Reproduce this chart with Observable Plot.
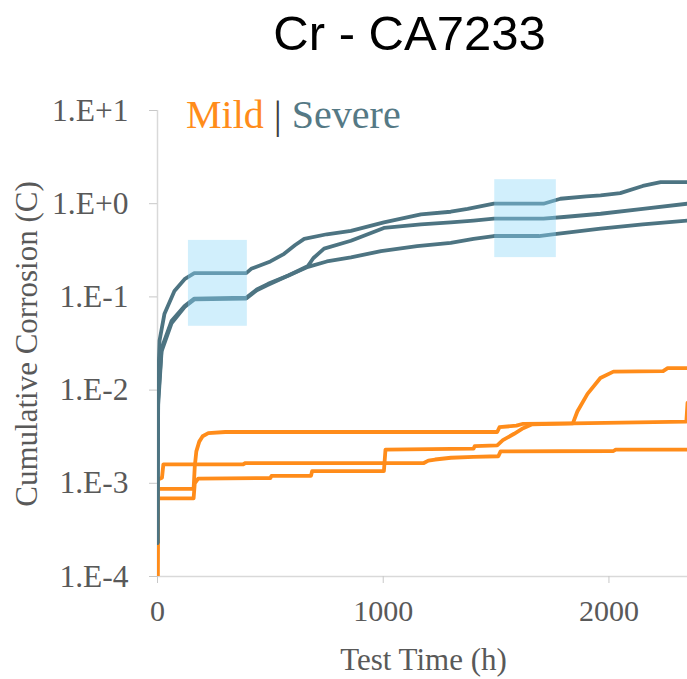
<!DOCTYPE html>
<html><head><meta charset="utf-8">
<script src="https://cdn.jsdelivr.net/npm/d3@7"></script>
<script src="https://cdn.jsdelivr.net/npm/@observablehq/plot@0.6"></script>
<style>
html,body{margin:0;padding:0;background:#fff;overflow:hidden}
#wrap{position:relative;width:687px;height:679px;background:#fff}
#title{position:absolute;left:409.5px;top:8.5px;transform:translateX(-50%);font-family:'Liberation Sans',Arial,sans-serif;font-size:49px;line-height:1;color:#000;white-space:nowrap}
#chart{position:absolute;left:0;top:70px}
.serif{font-family:'Liberation Serif','DejaVu Serif',serif}
#legend{position:absolute;left:186px;top:94.5px;font-size:40px;line-height:1;white-space:nowrap}
#xlab{position:absolute;left:423.5px;top:644px;transform:translateX(-50%);font-size:31px;line-height:1;color:#595959;white-space:nowrap}
#ylab{position:absolute;left:26px;top:344px;transform:translate(-50%,-50%) rotate(-90deg);font-size:31px;line-height:1;color:#595959;white-space:nowrap}
</style></head>
<body><div id="wrap">
<div id="title">Cr - CA7233</div>
<div id="chart"></div>
<div id="legend" class="serif"><span style="color:#ff8c1a">Mild</span> <span style="color:#404040">|</span> <span style="color:#557985">Severe</span></div>
<div id="xlab" class="serif">Test Time (h)</div>
<div id="ylab" class="serif">Cumulative Corrosion (C)</div>
</div>
<script>
// ---- data (time h, cumulative corrosion C) ----
const mildA = [[0,1e-4],[2,8.7e-4],[160,8.7e-4],[165,1.5e-3],[172,2.2e-3],[185,2.8e-3],[200,3.2e-3],[225,3.45e-3],[300,3.55e-3],[1505,3.55e-3],[1515,4.0e-3],[1590,4.15e-3],[1620,4.35e-3],[1840,4.4e-3],[1860,5.9e-3],[1905,9.1e-3],[1962,0.0135],[2020,0.0158],[2240,0.016],[2260,0.0172],[2348,0.0172]];
const mildB = [[0,1e-4],[2,1.1e-3],[20,1.15e-3],[26,1.6e-3],[380,1.6e-3],[390,1.65e-3],[1180,1.65e-3],[1200,1.75e-3],[1230,1.8e-3],[1300,1.88e-3],[1400,1.92e-3],[1510,1.95e-3],[1520,2.2e-3],[2020,2.22e-3],[2030,2.3e-3],[2348,2.3e-3]];
const mildC = [[0,1e-4],[2,6.9e-4],[160,6.9e-4],[165,1.0e-3],[180,1.12e-3],[500,1.14e-3],[505,1.2e-3],[680,1.2e-3],[685,1.35e-3],[1003,1.35e-3],[1010,2.3e-3],[1400,2.35e-3],[1405,2.5e-3],[1505,2.55e-3],[1530,2.9e-3],[1580,3.4e-3],[1620,3.9e-3],[1660,4.3e-3],[1840,4.4e-3],[2343,4.6e-3],[2348,7.3e-3]];
const severe1 = [[0,2.3e-4],[1,2e-3],[3,0.012],[9,0.034],[31,0.066],[75,0.116],[120,0.155],[163,0.18],[393,0.18],[415,0.2],[500,0.24],[561,0.29],[610,0.36],[650,0.42],[750,0.47],[857,0.51],[1003,0.63],[1167,0.77],[1299,0.82],[1374,0.88],[1490,1.0],[1710,1.0],[1785,1.13],[1900,1.2],[1963,1.23],[2050,1.3],[2150,1.55],[2229,1.7],[2348,1.7]];
const severe2 = [[0,2.3e-4],[1,1.5e-3],[3,0.008],[18,0.028],[62,0.055],[120,0.08],[163,0.096],[393,0.098],[440,0.12],[490,0.138],[580,0.17],[667,0.215],[690,0.26],[738,0.33],[857,0.4],[1003,0.55],[1167,0.6],[1299,0.63],[1400,0.66],[1490,0.69],[1710,0.69],[1800,0.72],[1963,0.78],[2150,0.88],[2348,1.0]];
const severe3 = [[0,2.3e-4],[1,1.3e-3],[3,0.007],[18,0.026],[62,0.052],[120,0.078],[163,0.094],[393,0.096],[440,0.118],[490,0.135],[580,0.17],[667,0.21],[750,0.24],[857,0.265],[990,0.31],[1150,0.35],[1299,0.38],[1400,0.42],[1490,0.45],[1690,0.45],[1750,0.47],[1963,0.54],[2150,0.6],[2348,0.66]];
// highlighted plateaus
const boxT1 = [137, 1494];
const boxT2 = [398, 1767];
const boxC1 = [0.0484, 0.264];
const boxC2 = [0.404, 1.81];
// axes
const xTicks = [0, 1000, 2000];
const xDomain = [0, 2348];
const yTicks = [1e-4, 1e-3, 1e-2, 1e-1, 1e0, 1e1];
const yTickLabels = ["1.E-4", "1.E-3", "1.E-2", "1.E-1", "1.E+0", "1.E+1"];

const mildColor = "#ff8c1a";
const severeColor = "#4d7482";

const toRows = (arr, id) => arr.map(([t, v]) => ({t, v, id}));
const mildRows = [...toRows(mildA, "A"), ...toRows(mildB, "B"), ...toRows(mildC, "C")];
const severeRows = [...toRows(severe1, "S1"), ...toRows(severe2, "S2"), ...toRows(severe3, "S3")];
const boxes = boxT1.map((t1, i) => ({t1, t2: boxT2[i], c1: boxC1[i], c2: boxC2[i]}));

const chart = Plot.plot({
  width: 687, height: 609,
  marginTop: 40, marginBottom: 103, marginLeft: 157, marginRight: 0,
  style: {fontFamily: "'Liberation Serif', 'DejaVu Serif', serif", fontSize: "30px", color: "#595959", background: "white", overflow: "visible"},
  x: {domain: xDomain},
  y: {type: "log", domain: [yTicks[0], yTicks[yTicks.length - 1]]},
  marks: [
    Plot.ruleX([0], {stroke: "#d9d9d9", strokeWidth: 1.5}),
    Plot.ruleY([yTicks[0]], {stroke: "#d9d9d9", strokeWidth: 1.5}),
    Plot.axisY({ticks: yTicks, tickFormat: d => yTickLabels[yTicks.findIndex(v => Math.abs(v - d) / v < 1e-6)], tickSize: 8, tickPadding: 21, stroke: "#c8c8c8", fill: "#595959", fontSize: 31.5, label: null}),
    Plot.axisX({ticks: xTicks, tickFormat: d => String(d), tickSize: 7, tickPadding: 16, stroke: "#c8c8c8", fill: "#595959", label: null}),
    Plot.line(mildRows, {x: "t", y: "v", z: "id", stroke: mildColor, strokeWidth: 3.8, curve: "linear", clip: true}),
    Plot.line(severeRows, {x: "t", y: "v", z: "id", stroke: severeColor, strokeWidth: 3.8, curve: "linear", clip: true}),
    Plot.rect(boxes, {x1: "t1", x2: "t2", y1: "c1", y2: "c2", fill: "#8bd8f7", fillOpacity: 0.4})
  ]
});
document.getElementById("chart").appendChild(chart);
</script>
</body></html>
